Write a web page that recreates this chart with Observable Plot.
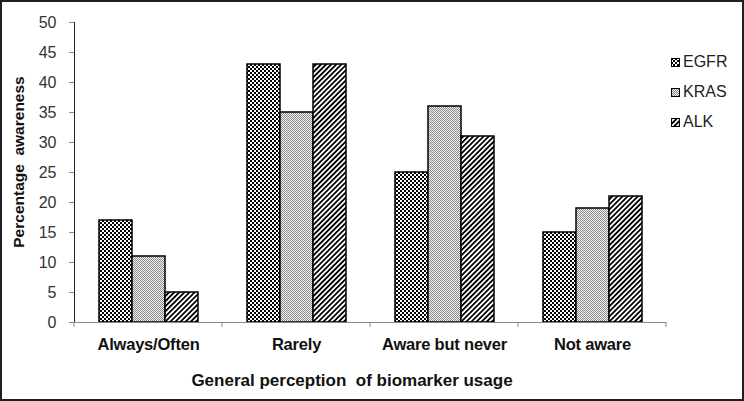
<!DOCTYPE html>
<html><head><meta charset="utf-8">
<script src="https://cdn.jsdelivr.net/npm/d3@7"></script>
<script src="https://cdn.jsdelivr.net/npm/@observablehq/plot@0.6"></script>
<style>
html,body{margin:0;padding:0;background:#fff;}
#wrap{position:relative;width:744px;height:401px;overflow:hidden;font-family:"Liberation Sans",Arial,sans-serif;color:#222;}
#frame{position:absolute;left:0;top:0;width:744px;height:401px;box-sizing:border-box;border:2px solid #1e1e1e;pointer-events:none;}
.narrow{font-family:"Liberation Sans Narrow","Arial Narrow","Liberation Sans",Arial,sans-serif;font-weight:bold;}
#xtitle{position:absolute;left:0;width:704px;top:371px;text-align:center;font-size:17px;white-space:nowrap;color:#111;}
#ytitle{position:absolute;left:19px;top:162px;transform:translate(-50%,-50%) rotate(-90deg);font-weight:bold;font-size:15.5px;white-space:nowrap;color:#111;}
#legend{position:absolute;left:671px;top:53px;font-size:16px;color:#222;}
#legend .row{height:30px;display:flex;align-items:flex-start;}
#legend svg{margin-top:5px;margin-right:3px;}
#legend span{line-height:18px;}
svg [aria-label^="fx-axis"] text{font-family:"Liberation Sans Narrow","Arial Narrow","Liberation Sans",Arial,sans-serif;font-weight:bold;font-size:16.5px;letter-spacing:-0.2px;fill:#111;}
svg [aria-label^="y-axis"] text{font-size:16px;fill:#333;}
svg [aria-label^="y-axis"] line, svg [aria-label^="y-axis"] path{stroke:#888;}
</style>
</head><body>
<svg width="0" height="0" style="position:absolute">
  <defs>
    <pattern id="pat-EGFR" patternUnits="userSpaceOnUse" width="4" height="4">
      <rect width="4" height="4" fill="#fff"/>
      <rect x="0" y="0" width="2" height="2" fill="#000"/>
      <rect x="2" y="2" width="2" height="2" fill="#000"/>
    </pattern>
    <pattern id="pat-KRAS" patternUnits="userSpaceOnUse" width="2" height="2">
      <rect width="2" height="2" fill="#f2f2f2"/>
      <rect x="0" y="0" width="1" height="1" fill="#8a8a8a"/>
      <rect x="1" y="1" width="1" height="1" fill="#8a8a8a"/>
    </pattern>
    <pattern id="pat-ALK" patternUnits="userSpaceOnUse" width="3.6" height="3.6" patternTransform="rotate(45)">
      <rect width="3.6" height="3.6" fill="#fff"/>
      <rect x="0" y="0" width="1.8" height="3.6" fill="#000"/>
    </pattern>
  </defs>
</svg>
<div id="wrap">
  <div id="chart"></div>
  <div id="ytitle">Percentage&nbsp;&nbsp;awareness</div>
  <div id="xtitle" class="narrow">General perception&nbsp; of biomarker usage</div>
  <div id="legend"></div>
  <div id="frame"></div>
</div>
<script>
const categories = ["Always/Often", "Rarely", "Aware but never", "Not aware"];
const series = ["EGFR", "KRAS", "ALK"];
const egfr = [17, 43, 25, 15];
const kras = [11, 35, 36, 19];
const alk = [5, 43, 31, 21];
const yTicks = [0, 5, 10, 15, 20, 25, 30, 35, 40, 45, 50];

const valuesBySeries = {EGFR: egfr, KRAS: kras, ALK: alk};
const table = [];
categories.forEach((c, i) => {
  series.forEach(s => table.push({category: c, series: s, value: valuesBySeries[s][i]}));
});

const chart = Plot.plot({
  width: 744,
  height: 401,
  marginLeft: 72,
  marginRight: 77,
  marginTop: 22,
  marginBottom: 79,
  style: {fontFamily: "'Liberation Sans', Arial, sans-serif", fontSize: "16px", color: "#222", background: "transparent"},
  facet: {data: table, x: "category"},
  fx: {domain: categories, padding: 0, label: null, tickSize: 0, tickPadding: 16},
  x: {domain: series, paddingInner: 0, paddingOuter: 0.725, axis: null},
  y: {domain: [0, 50], ticks: yTicks, tickSize: 5, tickPadding: 13, line: true, label: null},
  color: {domain: series, range: series.map(s => `url(#pat-${s})`)},
  marks: [
    Plot.barY(table, {x: "series", y: "value", fill: "series", stroke: "#000", strokeWidth: 1.5}),
    Plot.ruleY([0], {stroke: "#888"})
  ]
});
document.getElementById("chart").appendChild(chart);

// category boundary ticks on the x axis, from the fx scale
const fx = chart.scale("fx");
const y = chart.scale("y");
const y0 = y.apply(0);
const edges = categories.map(c => fx.apply(c)).concat([fx.apply(categories[categories.length - 1]) + fx.bandwidth]);
d3.select(chart).append("g").selectAll("line").data(edges).join("line")
  .attr("x1", d => d).attr("x2", d => d)
  .attr("y1", y0).attr("y2", y0 + 5)
  .attr("stroke", "#888");

// legend
const legend = d3.select("#legend");
series.forEach(s => {
  const row = legend.append("div").attr("class", "row");
  const sw = row.append("svg").attr("width", 9).attr("height", 9);
  sw.append("rect").attr("x", 0.5).attr("y", 0.5).attr("width", 8).attr("height", 8)
    .attr("fill", `url(#pat-${s})`).attr("stroke", "#000").attr("stroke-width", 1);
  row.append("span").text(s);
});
</script>
</body></html>
